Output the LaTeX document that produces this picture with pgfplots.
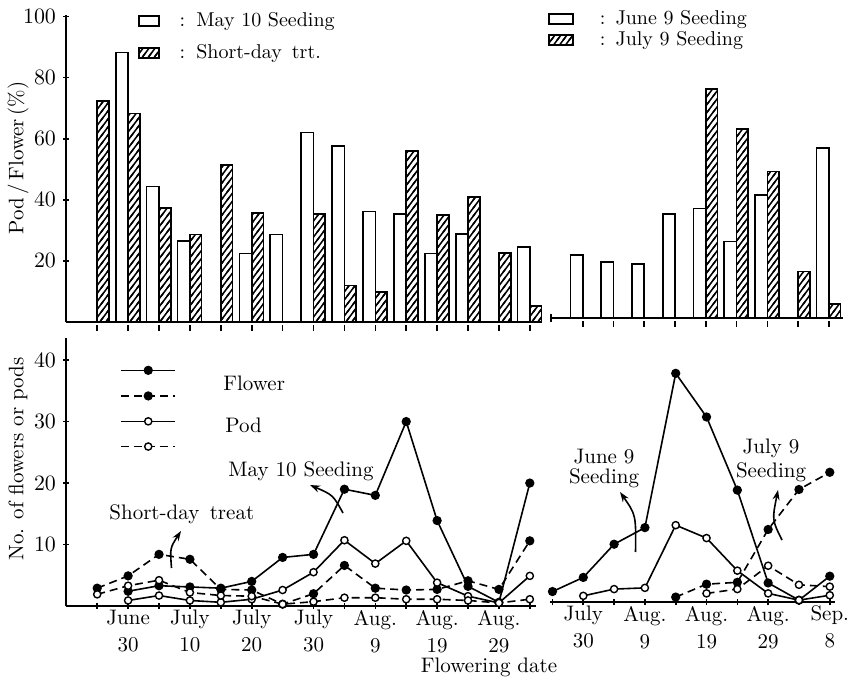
\documentclass[border=0pt]{standalone}
\usepackage{fontspec}
\usepackage{pgfplots}
\pgfplotsset{compat=1.18}
\usetikzlibrary{patterns.meta,arrows.meta}

% diagonal hatching of the short-day / July 9 bars
\tikzdeclarepattern{
  name=hatch,
  bounding box={(-1pt,-1pt) and (4pt,5pt)},
  tile size={(3pt,4pt)},
  code={\draw[line width=0.75pt] (-0.75pt,-1pt) -- (3.75pt,5pt);}
}

\newcommand\spaced[2]{{\addfontfeatures{LetterSpace=#1}#2}}

\pgfplotsset{
  every axis/.append style={scale only axis, anchor=south west, clip=false,
    tick style={line width=0.8pt, black},
    tick label style={font=\fontsize{10.5}{12}\selectfont},
    tick align=inside, major tick length=3pt},
  plainlines/.style={axis line style={-, line width=0.8pt}},
  wbar/.style={ybar, bar width=0.4, bar shift=-0.2, fill=white, draw=black, line width=0.8pt},
  hbar/.style={ybar, bar width=0.38, bar shift=0.19, pattern=hatch, draw=black, line width=0.8pt},
  fl/.style={black, line width=0.8pt, mark=*, mark size=1.9pt, mark options={solid, fill=black}},
  pd/.style={black, line width=0.8pt, mark=*, mark size=1.8pt, mark options={solid, fill=white, draw=black, line width=0.7pt}},
  dsh/.style={dash pattern=on 4pt off 2.5pt},
  boxlegend/.style={legend image code/.code={\draw[##1] (0pt,-2.5pt) rectangle (#1,2.5pt);}},
  bottomlabels/.style={xticklabel style={align=center, yshift=3pt, font=\fontsize{10.5}{13.5}\selectfont}},
}

\begin{document}
\begin{tikzpicture}[font=\fontsize{10.5}{12.6}\selectfont]
\useasboundingbox (0,0) rectangle (424.5pt,339.5pt);

%% top left: May 10 seeding and short-day treatment
\begin{axis}[
  at={(33pt,178.5pt)}, width=237.5pt, height=153.5pt,
  xmin=-1.01, xmax=14.36, ymin=0, ymax=100.5,
  axis x line=bottom, axis y line=left, plainlines,
  xtick={0,...,14}, xticklabels={}, major x tick style={yshift=-3pt},
  ytick={20,40,60,80,100},
  boxlegend=10pt,
  legend style={draw=none, fill=none, at={(0.151,1.023)}, anchor=north west,
    inner sep=0pt, row sep=3.5pt, font=\fontsize{10}{12}\selectfont},
  legend cell align=left,
]
\addplot[wbar] coordinates {
  (1,88.2)(2,44.3)(3,26.6)(5,22.4)(6,28.6)(7,62)(8,57.6)(9,36.2)
  (10,35.3)(11,22.4)(12,28.8)(14,24.6)};
\addlegendentry{\hspace{8pt}:\hspace{5.5pt}May 10 Seeding}
\addplot[hbar] coordinates {
  (0,72.3)(1,68.3)(2,37.3)(3,28.6)(4,51.4)(5,35.7)(7,35.3)(8,12)
  (9,9.8)(10,56)(11,35.1)(12,41)(13,22.6)(14,5.2)};
\addlegendentry{\hspace{8pt}:\hspace{5.5pt}Short-day\, trt.}
\end{axis}

%% top right: June 9 and July 9 seedings
\begin{axis}[
  at={(275pt,180.5pt)}, width=146.5pt, height=153.5pt,
  xmin=-0.065, xmax=9.46, ymin=0, ymax=100.5,
  axis x line=bottom, axis y line=none, plainlines,
  xtick={1,...,9}, xticklabels={}, major x tick style={yshift=-3pt},
  ytick=\empty,
  boxlegend=12pt,
  legend style={draw=none, fill=none, at={(-0.007,1.017)}, anchor=north west,
    inner sep=0pt, row sep=-2pt, font=\fontsize{10}{12}\selectfont},
  legend cell align=left,
]
\addplot[wbar] coordinates {
  (1,20.6)(2,18.4)(3,17.6)(4,34.0)(5,35.9)(6,25.0)(7,40.3)(9,55.7)};
\addlegendentry{\hspace{11pt}:\hspace{5pt}June 9 Seeding}
\addplot[hbar] coordinates {
  (5,74.9)(6,61.8)(7,47.9)(8,15.2)(9,4.6)};
\addlegendentry{\hspace{11pt}:\hspace{5pt}July 9 Seeding}
\end{axis}

%% bottom left: numbers of flowers and pods
\begin{axis}[
  at={(33pt,36.5pt)}, width=235pt, height=134pt,
  xmin=-1.01, xmax=14.2, ymin=0, ymax=43.6,
  axis x line=bottom, axis y line=left, plainlines,
  xtick={0,...,14},
  xticklabels={{},{June\\30},{},{July\\10},{},{July\\20},{},{July\\30},{},{Aug.\\9},{},{Aug.\\19},{},{Aug.\\29},{}},
  bottomlabels,
  ytick={10,20,30,40},
  legend image code/.code={\draw[mark repeat=2,mark phase=2,#1] plot coordinates {(0pt,0pt)(13.5pt,0pt)(27pt,0pt)};},
  legend style={draw=none, fill=none, at={(0.115,0.895)}, anchor=north west,
    inner sep=0pt, row sep=9pt, nodes={inner sep=0pt}},
]
% May 10 seeding, flowers
\addplot[fl] coordinates {
  (1,2.4)(2,3.3)(3,3.1)(4,2.9)(5,4.0)(6,7.9)(7,8.4)(8,19.0)(9,18.0)
  (10,30.0)(11,13.9)(12,3.2)(13,0.6)(14,20.0)};
\addlegendentry{\mbox{}}
% short-day treatment, flowers
\addplot[fl, dsh] coordinates {
  (0,2.9)(1,4.9)(2,8.4)(3,7.6)(4,2.7)(5,2.6)(6,0.3)(7,2.0)(8,6.6)
  (9,2.9)(10,2.6)(11,2.7)(12,4.1)(13,2.7)(14,10.6)};
\addlegendentry{\mbox{}}
% May 10 seeding, pods
\addplot[pd] coordinates {
  (1,0.9)(2,1.7)(3,0.9)(4,0.6)(5,1.1)(6,2.6)(7,5.5)(8,10.7)(9,6.9)
  (10,10.6)(11,3.8)(12,1.6)(13,0.5)(14,4.9)};
\addlegendentry{\mbox{}}
% short-day treatment, pods
\addplot[pd, dsh] coordinates {
  (0,1.9)(1,3.3)(2,4.2)(3,2.2)(4,1.7)(5,1.6)(6,0.3)(7,0.7)(8,1.35)
  (9,1.35)(10,1.1)(11,1.1)(12,0.9)(13,0.5)(14,1.1)};
\addlegendentry{\mbox{}}
\end{axis}

%% bottom right: June 9 and July 9 seedings
\begin{axis}[
  at={(275pt,38.5pt)}, width=142.5pt, height=134pt,
  xmin=-0.08, xmax=9.17, ymin=0, ymax=43.6,
  axis x line=bottom, axis y line=none, plainlines,
  xtick={0,...,9},
  xticklabels={{},{July\\30},{},{Aug.\\9},{},{Aug.\\19},{},{Aug.\\29},{},{Sep.\\8}},
  bottomlabels,
  ytick=\empty,
]
\addplot[fl] coordinates {
  (0,1.7)(1,4.0)(2,9.4)(3,12.1)(4,37.2)(5,30.1)(6,18.2)(7,3.1)(8,0.3)(9,4.2)};
\addplot[pd] coordinates {
  (1,1.0)(2,2.1)(3,2.3)(4,12.5)(5,10.4)(6,5.1)(7,1.4)(8,0.3)(9,1.1)};
\addplot[fl, dsh] coordinates {
  (4,0.8)(5,2.9)(6,3.2)(7,11.8)(8,18.3)(9,21.1)};
\addplot[pd, dsh] coordinates {
  (5,1.4)(6,2.1)(7,5.9)(8,2.8)(9,2.5)};
\end{axis}

%% texts and arrows, in pixel units of the original
\begin{scope}[x=0.5pt, y=-0.5pt, shift={(0pt,339.5pt)}, every node/.style={inner sep=0pt}]
  \draw[line width=0.8pt] (551,314) -- (551,322);
  \node[anchor=west] at (223,383) {Flower};
  \node[anchor=west] at (225,425) {Pod};
  \node at (301,471) {May 10 Seeding};
  \node[anchor=west] at (109,514) {Short-day\, treat};
  \node[align=center, font=\fontsize{10.5}{10}\selectfont] at (604,468) {June 9\\Seeding};
  \node[align=center, font=\fontsize{10.5}{12}\selectfont] at (771,460) {July 9\\Seeding};
  \node[rotate=90] at (18,158) {Pod\,/\,Flower\,(\%)};
  \node[rotate=90] at (18,459) {\spaced{8}{No. of flowers or pods}};
  \node at (489,667) {\spaced{8}{Flowering date}};
  \begin{scope}[line width=0.8pt, -{Stealth[length=5pt,width=3.5pt]}]
    \draw (343,513) .. controls (333,495) .. (310,485);
    \draw (171.5,568) .. controls (170,548) .. (181,531);
    \draw (635.5,552) .. controls (636,515) .. (620,492);
    \draw (782,540) .. controls (772,520) .. (778,490);
  \end{scope}
\end{scope}
\end{tikzpicture}
\end{document}
